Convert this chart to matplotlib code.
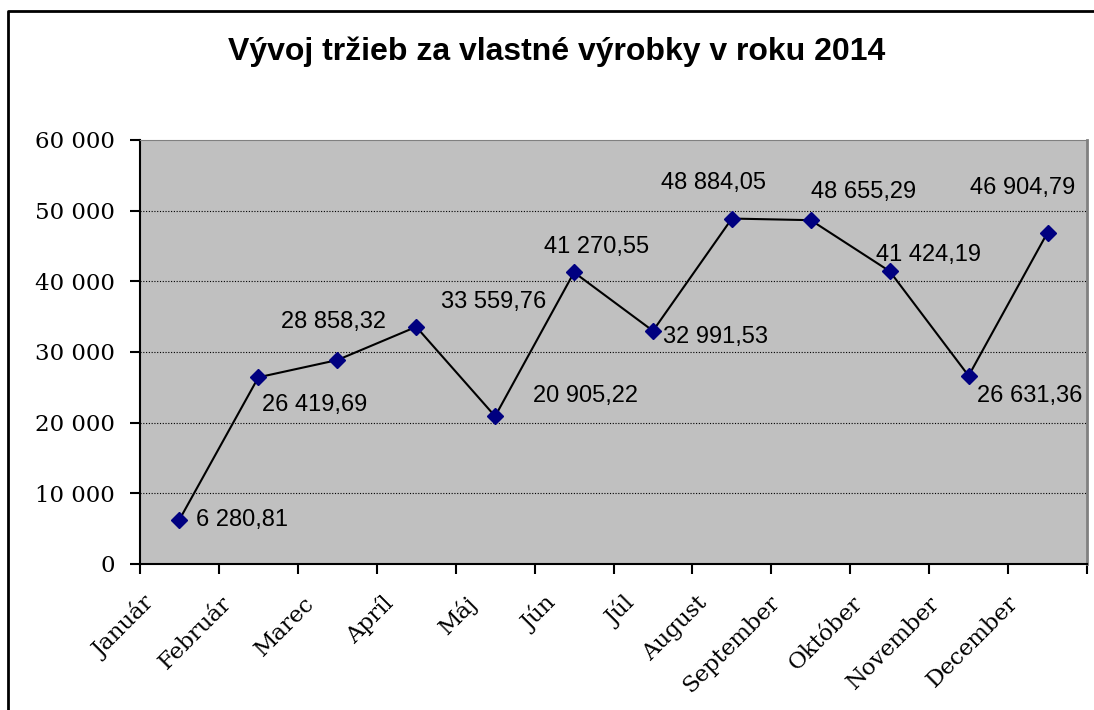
import matplotlib.pyplot as plt
from matplotlib.lines import Line2D
from matplotlib.transforms import ScaledTranslation

months = ['Január', 'Február', 'Marec', 'Apríl', 'Máj', 'Jún', 'Júl',
          'August', 'September', 'Október', 'November', 'December']
sales = [6280.81, 26419.69, 28858.32, 33559.76, 20905.22, 41270.55,
         32991.53, 48884.05, 48655.29, 41424.19, 26631.36, 46904.79]
yticks = [0, 10000, 20000, 30000, 40000, 50000, 60000]

# label offsets in pixels (dx, dy)
label_offsets = [(63, 0), (56, -28), (-4, 38), (77, 25), (90, 20), (23, 25),
                 (63, -6), (-18, 36), (53, 28), (39, 16), (61, -20), (-25, 45)]


def fmt_thousands(v, dec=0):
    s = f"{v:,.{dec}f}"
    return s.replace(',', ' ').replace('.', ',')


fig = plt.figure(figsize=(10.94, 7.10), dpi=100)
ax = fig.add_axes([140 / 1094, 1 - 564 / 710, (1087 - 140) / 1094, (564 - 140) / 710])
ax.set_facecolor('#C0C0C0')

x = list(range(len(months)))
ax.plot(x, sales, color='black', lw=1.5, zorder=3)
ax.plot(x, sales, ls='none', marker='D', ms=8, color='#000080', zorder=4)

for xi, v, (dx, dy) in zip(x, sales, label_offsets):
    ax.annotate(fmt_thousands(v, 2), (xi, v), xytext=(dx, dy), textcoords='offset pixels',
                ha='center', va='center', fontsize=17, family='Liberation Sans', zorder=5)

ax.set_xlim(-0.5, len(months) - 0.5)
ax.set_ylim(0, 60000)
ax.set_yticks(yticks)
ax.set_yticklabels([fmt_thousands(t) for t in yticks], family='DejaVu Serif', fontsize=16.5)
ax.set_xticks([i - 0.5 for i in range(len(months) + 1)])
ax.set_xticklabels([])
ax.tick_params(axis='x', length=7, width=1.5, direction='out')
ax.tick_params(axis='y', length=7, width=1.5, pad=11)

# Excel-like rotated category labels, shifted left a bit more for longer names
for xi, name in zip(x, months):
    shift = 10 + 2.3 * len(name)
    tr = ax.get_xaxis_transform() + ScaledTranslation(-shift / 100, -40 / 100, fig.dpi_scale_trans)
    ax.text(xi, 0, name, transform=tr, rotation=45, rotation_mode='anchor',
            ha='right', va='baseline', family='DejaVu Serif', fontsize=16.5)

for g in yticks[1:-1]:
    ax.axhline(g, color='black', lw=0.8, ls=(0, (1, 1.5)), zorder=1)

ax.spines['left'].set_linewidth(1.5)
ax.spines['bottom'].set_linewidth(1.5)
ax.spines['top'].set_color('#808080')
ax.spines['right'].set_color('#808080')
ax.spines['right'].set_linewidth(2)

fig.text(557 / 1094, 1 - 52 / 710, 'Vývoj tržieb za vlastné výrobky v roku 2014',
         ha='center', va='center', fontsize=23, fontweight='bold', family='Liberation Sans')

# outer chart border (left and top edges only are visible)
top = 1 - 11 / 710
left = 8 / 1094
fig.lines.append(Line2D([left, left, 1], [0, top, top], transform=fig.transFigure,
                        color='black', lw=2))

fig.savefig('out.png', dpi=100)
